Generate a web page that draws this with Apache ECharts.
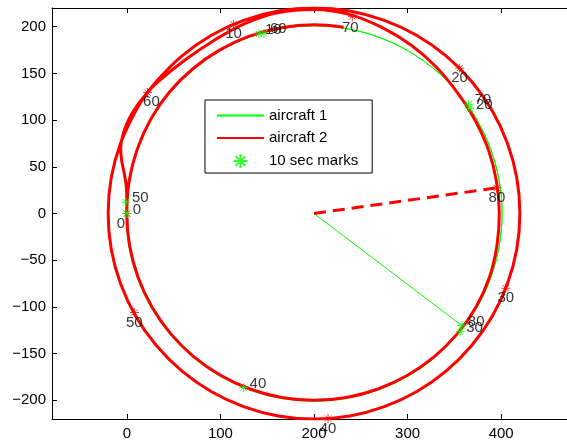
<!DOCTYPE html>
<html><head><meta charset="utf-8">
<script src="https://cdn.jsdelivr.net/npm/echarts@6/dist/echarts.min.js"></script>
<style>html,body{margin:0;padding:0;background:#fff}#c{width:567px;height:443px}</style>
</head><body><div id="c"></div>
<script>
// ---- tick labels ----
const xTicks = [0, 100, 200, 300, 400];
const yTicks = [-200, -150, -100, -50, 0, 50, 100, 150, 200];

// ---- aircraft 1 (green) path ----
const ac1X = [0, 2.05, 11.1, 25.9, 46, 70.8, 99.5, 131.3, 165.1, 200, 234.9, 268.7, 300.5, 329.2, 354, 374.1, 388.9, 397.9, 401,
              397.9, 388.9, 374.1, 354, 329.2, 300.5, 268.7, 234.9, 200, 165.1, 131.3, 99.5, 70.8, 46, 25.9, 11.1, 2.05, -1, -1,
              2.05, 11.1, 25.9, 46, 70.8, 99.5, 131.3, 165.1, 200, 234.9, 268.7, 300.5, 329.2, 354, 374.1, 388.9, 397.9, 401,
              397.9, 388.9, 374.1, 358];
const ac1Y = [0, 34.9, 68.7, 100.5, 129.2, 154, 174.1, 188.9, 197.9, 201, 197.9, 188.9, 174.1, 154, 129.2, 100.5, 68.7, 34.9, 0,
              -34.9, -68.7, -100.5, -129.2, -154, -174.1, -188.9, -197.9, -201, -197.9, -188.9, -174.1, -154, -129.2, -100.5, -68.7, -34.9, 0, 12,
              34.9, 68.7, 100.5, 129.2, 154, 174.1, 188.9, 197.9, 201, 197.9, 188.9, 174.1, 154, 129.2, 100.5, 68.7, 34.9, 0,
              -34.9, -68.7, -100.5, -120];

// ---- aircraft 2 (red) path ----
const ac2X = [0, 0, -0.7, -3.2, -5.8, -6.5, -4.5, -0.5, 5.5, 13, 22,
              31.5, 58.6, 90, 124.8, 161.8, 200, 238.2, 275.2, 310, 341.4, 368.5, 390.5, 406.7, 416.7, 420,
              416.7, 406.7, 390.5, 368.5, 341.4, 310, 275.2, 238.2, 200, 161.8, 124.8, 90, 58.6, 31.5, 9.5, -6.7, -16.7, -20,
              -16.7, -6.7, 9.5, 22,
              32.6, 62.1, 93, 126, 162.1, 200, 237.6, 272.5, 304, 331.1, 353.6, 372.3, 386.5, 395, 398,
              395.5, 387.5, 373.2, 353.2, 328.6, 300, 268.4, 234.7, 200, 165.3, 131.6, 100, 71.4, 46.8, 26.8, 12.1, 3, 0,
              2.5, 11.1, 25.5, 45.3, 70.2, 99, 130.9, 164.9, 200, 231.6];
const ac2Y = [0, 15, 30, 45, 58, 70, 83, 95, 107, 118.5, 129.5,
              141.4, 168.5, 190.5, 206.7, 216.7, 220, 216.7, 206.7, 190.5, 168.5, 141.4, 110, 75.2, 38.2, 0,
              -38.2, -75.2, -110, -141.4, -168.5, -190.5, -206.7, -216.7, -220, -216.7, -206.7, -190.5, -168.5, -141.4, -110, -75.2, -38.2, 0,
              38.2, 75.2, 110, 129.5,
              140.5, 164.3, 185.3, 203.4, 215.2, 218.5, 213.2, 199.2, 180.1, 156.3, 128.9, 99.5, 67.9, 34.4, 0,
              -34.5, -68.2, -100, -128.6, -153.2, -173.2, -187.9, -197, -200, -197, -187.9, -173.2, -153.2, -128.6, -100, -68.4, -34.7, 0,
              34.8, 68.7, 100.8, 129.8, 154.7, 174.9, 189.8, 198.9, 202, 199.5];

// ---- 10 second marks ----
const markTimes = ['0', '10', '20', '30', '40', '50', '60', '70', '80'];
const ac1MarkX = [0, 141.2, 366.6, 356.2, 124.7, -1, 146.5, 365, 358];
const ac1MarkY = [0, 192.2, 112.4, -126.5, -186.4, 12, 193, 117, -120];
const ac2MarkX = [0, 114, 355.6, 405, 215, 8, 22, 241, 395.5];
const ac2MarkY = [0, 202.5, 155.6, -80, -219.5, -106, 129.5, 211, 27.5];

// ---- radial lines at final time ----
const centre = [200, 0];
const ac1End = [358, -120];
const ac2End = [395.5, 27.5];

const zip = (a, b) => a.map((v, i) => [v, b[i]]);
const star = 'path://M5 0L5 10M0 5L10 5M1.5 1.5L8.5 8.5M1.5 8.5L8.5 1.5';
const font = '"Liberation Sans", Arial, sans-serif';
const minusFmt = v => String(v).replace('-', '\u2212');
const hidden = {color: 'rgba(0,0,0,0)', borderColor: 'rgba(0,0,0,0)', borderWidth: 0};
const redLabelOffset = {0: [-6, 10], 60: [4, 9], 70: [-2, 11]};

const chart = echarts.init(document.getElementById('c'), null, {renderer: 'canvas'});
const axisCommon = {
  type: 'value', splitLine: {show: false},
  axisLine: {show: true, onZero: false, lineStyle: {color: '#000', width: 1}},
  axisTick: {show: true, inside: true, length: 5, lineStyle: {color: '#000'}},
};
chart.setOption({
  animation: false,
  backgroundColor: '#fff',
  grid: {left: 52, top: 8, width: 524, height: 411, containLabel: false, outerBoundsMode: 'none'},
  xAxis: [
    Object.assign({}, axisCommon, {min: -80, max: 480, position: 'bottom',
      axisTick: Object.assign({}, axisCommon.axisTick, {customValues: xTicks}),
      axisLabel: {customValues: xTicks, color: '#000', fontSize: 15, fontFamily: font, margin: 7, formatter: minusFmt}}),
    Object.assign({}, axisCommon, {min: -80, max: 480, position: 'top',
      axisTick: Object.assign({}, axisCommon.axisTick, {customValues: xTicks}),
      axisLabel: {show: false, customValues: xTicks}})
  ],
  yAxis: [
    Object.assign({}, axisCommon, {min: -220, max: 220, position: 'left',
      axisTick: Object.assign({}, axisCommon.axisTick, {customValues: yTicks}),
      axisLabel: {customValues: yTicks, color: '#000', fontSize: 15, fontFamily: font, margin: 6, formatter: minusFmt}}),
    Object.assign({}, axisCommon, {min: -220, max: 220, position: 'right',
      axisTick: Object.assign({}, axisCommon.axisTick, {customValues: yTicks}),
      axisLabel: {show: false, customValues: yTicks}})
  ],
  legend: {
    orient: 'vertical', left: 205, top: 100,
    backgroundColor: '#fff', borderColor: '#000', borderWidth: 1, borderRadius: 0,
    padding: [8, 14, 4, 11], itemGap: 7.5, itemWidth: 47, itemHeight: 14,
    textStyle: {fontSize: 15, fontFamily: font, color: '#000'},
    data: [{name: 'aircraft 1', itemStyle: hidden}, {name: 'aircraft 2', itemStyle: hidden}, '10 sec marks']
  },
  series: [
    {name: 'aircraft 1', type: 'line', data: zip(ac1X, ac1Y), showSymbol: false, symbol: 'none', smooth: 0.35,
     lineStyle: {color: '#00ff00', width: 1}, itemStyle: {color: '#00ff00'}, z: 2},
    {name: 'aircraft 2', type: 'line', data: zip(ac2X, ac2Y), showSymbol: false, symbol: 'none', smooth: 0.35,
     lineStyle: {color: '#ff0000', width: 3}, itemStyle: {color: '#ff0000'}, z: 3},
    {name: 'ac1 radius', type: 'line', data: [centre, ac1End], showSymbol: false, symbol: 'none',
     lineStyle: {color: '#00ff00', width: 1}, z: 2},
    {name: 'ac2 radius', type: 'line', data: [centre, ac2End], showSymbol: false, symbol: 'none',
     lineStyle: {color: '#ff0000', width: 3, type: [12, 7]}, z: 3},
    {name: 'ac2 marks', type: 'scatter',
     data: zip(ac2MarkX, ac2MarkY).map((p, i) => {
       const item = {value: p, name: markTimes[i]};
       if (redLabelOffset[markTimes[i]]) item.label = {offset: redLabelOffset[markTimes[i]]};
       return item;
     }),
     symbol: star, symbolSize: 9, itemStyle: {color: 'rgba(0,0,0,0)', borderColor: '#ff0000', borderWidth: 1}, z: 4,
     label: {show: true, formatter: '{b}', position: 'inside', offset: [0, 10], color: '#000', fontSize: 15, fontFamily: font}},
    {name: '10 sec marks', type: 'scatter', data: zip(ac1MarkX, ac1MarkY).map((p, i) => ({value: p, name: markTimes[i]})),
     symbol: star, symbolSize: 9, itemStyle: {color: 'rgba(0,0,0,0)', borderColor: '#00ff00', borderWidth: 1}, z: 5,
     label: {show: true, formatter: '{b}', position: 'right', distance: 1, offset: [0, -4], color: '#000', fontSize: 15, fontFamily: font}}
  ]
});
</script></body></html>
